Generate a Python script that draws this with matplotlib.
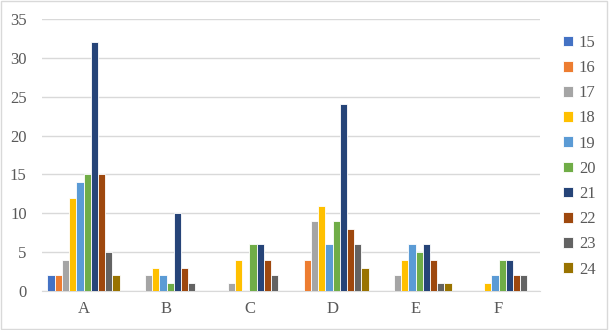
import matplotlib
matplotlib.use("Agg")
import matplotlib.pyplot as plt
import numpy as np
from matplotlib.patches import Rectangle

categories = ["A", "B", "C", "D", "E", "F"]
series_names = ["15", "16", "17", "18", "19", "20", "21", "22", "23", "24"]
s15 = [2, 0, 0, 0, 0, 0]
s16 = [2, 0, 0, 4, 0, 0]
s17 = [4, 2, 1, 9, 2, 0]
s18 = [12, 3, 4, 11, 4, 1]
s19 = [14, 2, 0, 6, 6, 2]
s20 = [15, 1, 6, 9, 5, 4]
s21 = [32, 10, 6, 24, 6, 4]
s22 = [15, 3, 4, 8, 4, 2]
s23 = [5, 1, 2, 6, 1, 2]
s24 = [2, 0, 0, 3, 1, 0]
series = [s15, s16, s17, s18, s19, s20, s21, s22, s23, s24]
colors = ["#4472C4", "#ED7D31", "#A5A5A5", "#FFC000", "#5B9BD5",
          "#70AD47", "#264478", "#9E480E", "#636363", "#997300"]

plt.rcParams['font.family'] = ['Liberation Serif', 'DejaVu Serif']

fig = plt.figure(figsize=(6.09, 3.30), dpi=100)
ax = fig.add_axes([42/609, 1 - 291/330, (540-42)/609, (291-19)/330])

x = np.arange(len(categories))
n = len(series)
bw = 0.087
for i, (vals, c, name) in enumerate(zip(series, colors, series_names)):
    ax.bar(x + (i - (n - 1) / 2) * bw, vals, width=bw, color=c,
           edgecolor="white", linewidth=0.6, label=name, zorder=3)

ax.set_xlim(-0.5, len(categories) - 0.5)
ax.set_ylim(0, 35)
ax.set_yticks(range(0, 36, 5))
ax.set_xticks(x)
ax.set_xticklabels(categories)
ax.grid(axis="y", color="#D9D9D9", linewidth=1, zorder=0)
for s in ["top", "right", "left"]:
    ax.spines[s].set_visible(False)
ax.spines["bottom"].set_color("#D9D9D9")
ax.tick_params(axis="both", length=0, colors="#595959", labelsize=12)
ax.tick_params(axis="y", pad=11)
ax.tick_params(axis="x", pad=7)

leg = fig.legend(*ax.get_legend_handles_labels(), loc="upper left",
                 bbox_to_anchor=(563/609, 1 - 35/330), bbox_transform=fig.transFigure,
                 frameon=False, handlelength=0.6, handleheight=0.6,
                 labelspacing=0.55, fontsize=12, handletextpad=0.35,
                 borderaxespad=0, borderpad=0)
for t in leg.get_texts():
    t.set_color("#595959")

fig.patches.append(Rectangle((0.002, 0.003), 0.995, 0.993, transform=fig.transFigure,
                             fill=False, edgecolor="#D9D9D9", linewidth=1))

fig.savefig("out.png", dpi=100)
